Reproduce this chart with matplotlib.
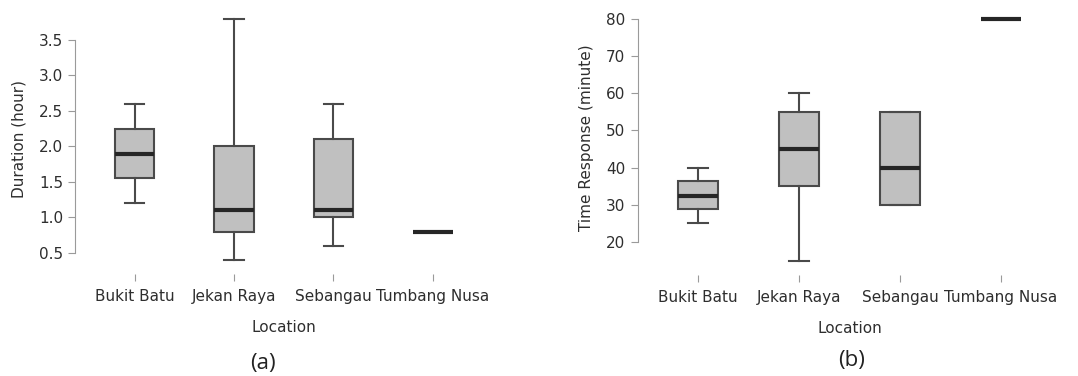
import matplotlib.pyplot as plt

plt.rcParams['font.family'] = ['DejaVu Sans']

locations = ['Bukit Batu', 'Jekan Raya', 'Sebangau', 'Tumbang Nusa']

# duration (hour): lower whisker, q1, median, q3, upper whisker
dur_low = [1.2, 0.4, 0.6, 0.8]
dur_q1 = [1.55, 0.8, 1.0, 0.8]
dur_med = [1.9, 1.1, 1.1, 0.8]
dur_q3 = [2.25, 2.0, 2.1, 0.8]
dur_high = [2.6, 3.8, 2.6, 0.8]

# time response (minute)
resp_low = [25, 15, 30, 80]
resp_q1 = [28.8, 35, 30, 80]
resp_med = [32.5, 45, 40, 80]
resp_q3 = [36.3, 55, 55, 80]
resp_high = [40, 60, 55, 80]

dur_ticks = [0.5, 1.0, 1.5, 2.0, 2.5, 3.0, 3.5]
resp_ticks = [20, 30, 40, 50, 60, 70, 80]

text_col = '#2e2e2e'
axis_col = '#9a9a9a'
box_edge = '#4a4a4a'
box_fill = '#c0c0c0'
fsize = 11


def make_stats(low, q1, med, q3, high):
    return [dict(whislo=a, q1=b, med=c, q3=d, whishi=e, fliers=[])
            for a, b, c, d, e in zip(low, q1, med, q3, high)]


def draw_panel(ax, stats, ticks, ylim, ylabel):
    ax.bxp(stats, positions=[1, 2, 3, 4], widths=0.4, patch_artist=True,
           showfliers=False,
           boxprops=dict(facecolor=box_fill, edgecolor=box_edge, linewidth=1.5),
           medianprops=dict(color='#262626', linewidth=3, solid_capstyle='butt'),
           whiskerprops=dict(color=box_edge, linewidth=1.5),
           capprops=dict(color=box_edge, linewidth=1.5),
           capwidths=0.2)
    ax.set_xlim(0.406, 4.6)
    ax.set_ylim(*ylim)
    ax.set_yticks(ticks)
    ax.set_yticklabels([str(t) for t in ticks])
    ax.set_xticks([1, 2, 3, 4])
    ax.set_xticklabels(locations)
    for s in ['top', 'right', 'bottom']:
        ax.spines[s].set_visible(False)
    ax.spines['left'].set_bounds(ticks[0], ticks[-1])
    ax.spines['left'].set_color(axis_col)
    ax.spines['bottom'].set_position(('outward', 5))
    ax.tick_params(axis='y', length=5, color=axis_col, labelsize=fsize,
                   labelcolor=text_col, pad=4)
    ax.tick_params(axis='x', length=5, color=axis_col, labelsize=fsize,
                   labelcolor=text_col, pad=6)
    ax.set_ylabel(ylabel, fontsize=fsize, color=text_col, labelpad=9)
    ax.set_xlabel('Location', fontsize=fsize, color=text_col, labelpad=11)


fig = plt.figure(figsize=(10.78, 3.76), dpi=100)
ax1 = fig.add_axes([0.0700, 0.2894, 0.387, 0.680])
ax2 = fig.add_axes([0.5918, 0.2872, 0.393, 0.692])

draw_panel(ax1, make_stats(dur_low, dur_q1, dur_med, dur_q3, dur_high),
           dur_ticks, (0.3, 3.9), 'Duration (hour)')
draw_panel(ax2, make_stats(resp_low, resp_q1, resp_med, resp_q3, resp_high),
           resp_ticks, (13, 83), 'Time Response (minute)')

fig.text(0.244, 0.032, '(a)', ha='center', va='center', fontsize=16,
         color='#222222', family=['Open Sans', 'DejaVu Sans'])
fig.text(0.790, 0.040, '(b)', ha='center', va='center', fontsize=16,
         color='#222222', family=['Open Sans', 'DejaVu Sans'])

fig.savefig('out.png', dpi=100)
